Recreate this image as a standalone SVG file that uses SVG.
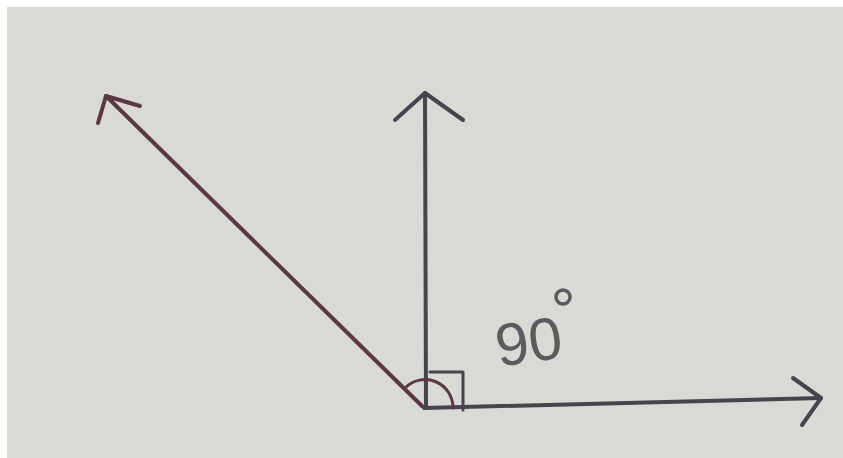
<svg xmlns="http://www.w3.org/2000/svg" width="843" height="458" viewBox="0 0 843 458">
<style>
.ink{fill:none;stroke:#48444e;stroke-width:4;stroke-linecap:round;stroke-linejoin:round}
.red{stroke:#5a3845}
.thin{stroke-width:3}
.lbl{font-family:"Liberation Sans",Arial,sans-serif;fill:#5c5a5e}
</style>
<rect x="0" y="0" width="843" height="458" fill="#ffffff"/>
<rect x="7" y="7" width="836" height="451" fill="#d9d9d5"/>
<g id="connectors">
<g id="ray-up">
<line class="ink" x1="426" y1="408" x2="425" y2="93"/>
<polyline class="ink" points="395,120 425,93 463,120"/>
</g>
<g id="ray-left">
<line class="ink red" x1="422" y1="406" x2="106" y2="96"/>
<polyline class="ink red" points="140,106 106,96 98,123"/>
</g>
<g id="ray-right">
<line class="ink" x1="424" y1="408" x2="821" y2="398"/>
<polyline class="ink" points="793,378 821,398 802,425"/>
</g>
</g>
<g id="angle-marks">
<polyline class="ink thin" points="430,372 463,372 463,410"/>
<path class="ink thin red" d="M405,388 A28,28 0 0 1 453,408"/>
</g>
<g id="label">
<text class="lbl" x="495" y="362" font-size="60" transform="rotate(-8 530 340)">90</text>
<circle cx="563" cy="297" r="7" fill="none" stroke="#5c5a5e" stroke-width="3.5"/>
</g>
</svg>
